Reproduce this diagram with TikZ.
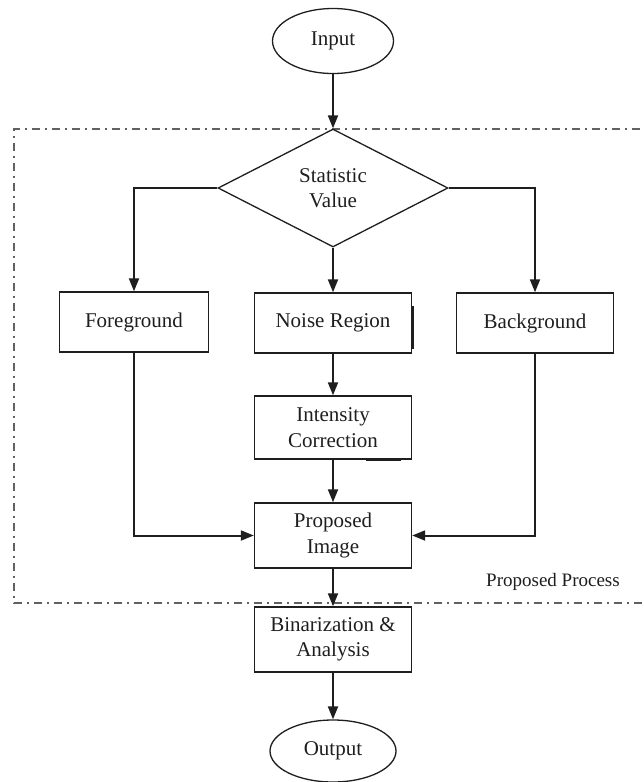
\documentclass[tikz,border=0pt]{standalone}
\usepackage{fontspec}
\setmainfont{Liberation Serif}
\usetikzlibrary{shapes.geometric,arrows.meta}
\definecolor{ink}{HTML}{1E1E1E}
\begin{document}
\begin{tikzpicture}[x=1pt,y=-1pt,
  every node/.style={font=\fontsize{21}{25.5}\selectfont, text=ink},
  boxnode/.style={draw=ink, line width=1.4pt, rectangle, inner sep=0pt, align=center},
  ovalnode/.style={draw=ink, line width=1.3pt, ellipse, inner sep=0pt, minimum width=121pt, minimum height=65pt},
  decision/.style={draw=ink, line width=1.3pt, diamond, inner sep=0pt, align=center, minimum width=230pt, minimum height=118pt},
  arr/.style={draw=ink, line width=2pt, -{Triangle[length=13pt,width=10pt]}},
  regionline/.style={draw=ink!70, line width=1.2pt, dash pattern=on 8pt off 5pt on 2pt off 5pt}
]
\useasboundingbox (0,0) rectangle (644,782);

% dashed region (open at right edge)
\begin{scope}
\clip (0,0) rectangle (644,782);
\draw[regionline] (700,129) -- (14,129) -- (14,603) -- (700,603);
\end{scope}

\node[ovalnode] (in) at (333,41) {Input};
\node[decision] (dia) at (333,188) {Statistic\\Value};
\node[boxnode, minimum width=149pt, minimum height=60pt] (fg) at (134,322) {Foreground};
\node[boxnode, minimum width=157pt, minimum height=60pt] (nr) at (333,323) {Noise Region};
\node[boxnode, minimum width=157pt, minimum height=60pt] (bg) at (535,323) {Background};
\node[boxnode, minimum width=157pt, minimum height=63pt] (ic) at (333,427.5) {Intensity\\Correction};
\node[boxnode, minimum width=157pt, minimum height=65pt] (pi) at (333,535.5) {Proposed\\Image};
\node[boxnode, minimum width=157pt, minimum height=65pt] (ba) at (333,639.5) {Binarization \&\\Analysis};
\node[ovalnode, minimum width=126pt, minimum height=62pt] (out) at (333,751) {Output};
\node[font=\fontsize{19}{22}\selectfont] (pp) at (553,582) {Proposed Process};

% small thick artefacts on box edges
\draw[ink, line width=3pt] ([xshift=-46pt]ic.south east) -- ([xshift=-11pt]ic.south east);
\draw[ink, line width=2.6pt] ([yshift=-14pt]nr.north east) -- ([yshift=5pt]nr.south east);

% connectors
\draw[arr] (in) -- (dia.north);
\draw[arr] (dia.west) -| (fg.north);
\draw[arr] (dia.east) -| (bg.north);
\draw[arr] (dia.south) -- (dia.south |- nr.north);
\draw[arr] (nr.south) -- (nr.south |- ic.north);
\draw[arr] (ic.south) -- (pi.north);
\draw[arr] (fg.south) |- (pi.west);
\draw[arr] (bg.south) |- (pi.east);
\draw[arr] (pi.south) -- (ba.north);
\draw[arr] (ba.south) -- (out.north);
\end{tikzpicture}
\end{document}
